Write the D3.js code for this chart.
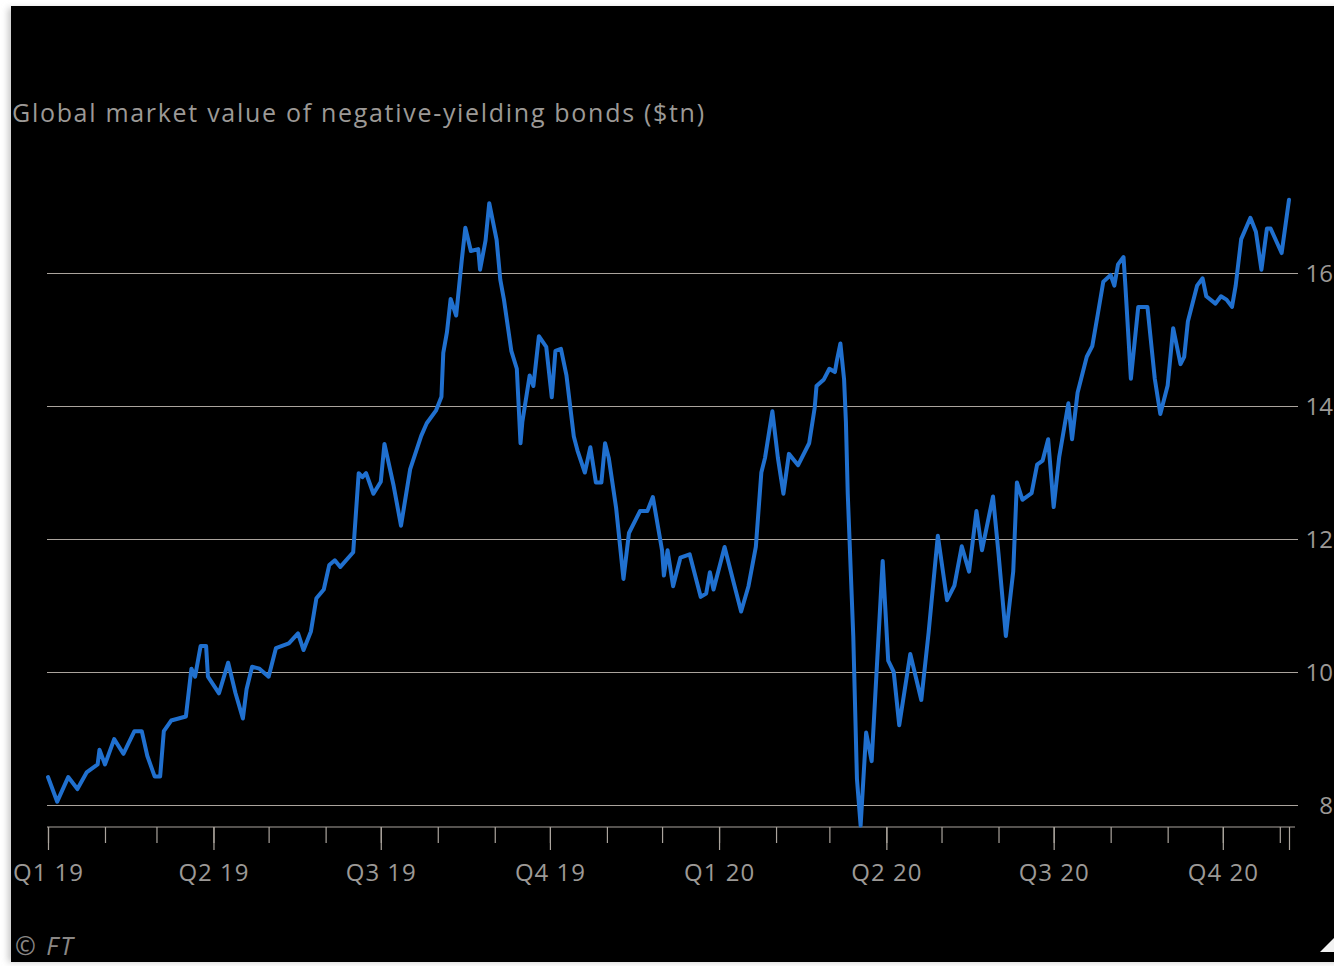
<!DOCTYPE html>
<html>
<head>
<meta charset="utf-8">
<script src="https://cdn.jsdelivr.net/npm/d3@7"></script>
<style>
  html, body { margin: 0; padding: 0; background: #fff; overflow: hidden; }
  svg { display: block; }
</style>
</head>
<body>
<svg id="chart" width="1334" height="966"></svg>
<script>
// Global market value of negative-yielding bonds, $tn
const dates = [
  "2019-01-01","2019-01-06","2019-01-12","2019-01-17","2019-01-22","2019-01-28","2019-01-29",
  "2019-02-01","2019-02-06","2019-02-11","2019-02-17","2019-02-21","2019-02-24","2019-02-28",
  "2019-03-03","2019-03-05","2019-03-09","2019-03-17","2019-03-20","2019-03-22","2019-03-25","2019-03-28","2019-03-29",
  "2019-04-04","2019-04-09","2019-04-13","2019-04-17","2019-04-19","2019-04-22","2019-04-26",
  "2019-05-01","2019-05-05","2019-05-12","2019-05-17","2019-05-20","2019-05-24","2019-05-27","2019-05-31",
  "2019-06-03","2019-06-06","2019-06-09","2019-06-16","2019-06-19","2019-06-21","2019-06-23","2019-06-27",
  "2019-07-01","2019-07-03","2019-07-08","2019-07-12","2019-07-17","2019-07-23","2019-07-26","2019-07-31",
  "2019-08-03","2019-08-04","2019-08-06","2019-08-08","2019-08-11","2019-08-14","2019-08-16","2019-08-19",
  "2019-08-23","2019-08-24","2019-08-27","2019-08-29",
  "2019-09-02","2019-09-04","2019-09-06","2019-09-10","2019-09-13","2019-09-15","2019-09-16","2019-09-20",
  "2019-09-22","2019-09-25","2019-09-29",
  "2019-10-02","2019-10-04","2019-10-07","2019-10-10","2019-10-14","2019-10-16","2019-10-20","2019-10-23",
  "2019-10-26","2019-10-29","2019-10-31",
  "2019-11-02","2019-11-06","2019-11-10","2019-11-13","2019-11-19","2019-11-23","2019-11-26",
  "2019-12-01","2019-12-02","2019-12-04","2019-12-07","2019-12-11","2019-12-16","2019-12-22","2019-12-25",
  "2019-12-27","2019-12-29",
  "2020-01-04","2020-01-09","2020-01-13","2020-01-17","2020-01-21","2020-01-24","2020-01-26","2020-01-30",
  "2020-02-02","2020-02-05","2020-02-08","2020-02-13","2020-02-19","2020-02-22","2020-02-23","2020-02-27",
  "2020-03-01","2020-03-04","2020-03-05","2020-03-07","2020-03-09","2020-03-10","2020-03-11","2020-03-14",
  "2020-03-16","2020-03-18","2020-03-21","2020-03-24",
  "2020-03-30","2020-04-02","2020-04-05","2020-04-08","2020-04-14","2020-04-20","2020-04-24","2020-04-29",
  "2020-05-04","2020-05-08","2020-05-12","2020-05-16","2020-05-20","2020-05-23","2020-05-29",
  "2020-06-01","2020-06-05","2020-06-09","2020-06-11","2020-06-14","2020-06-19","2020-06-22","2020-06-25","2020-06-28",
  "2020-07-01","2020-07-04","2020-07-09","2020-07-11","2020-07-14","2020-07-19","2020-07-22","2020-07-25","2020-07-28",
  "2020-08-01","2020-08-03","2020-08-05","2020-08-08","2020-08-09","2020-08-12","2020-08-16","2020-08-21",
  "2020-08-25","2020-08-28",
  "2020-09-01","2020-09-04","2020-09-08","2020-09-10","2020-09-12","2020-09-17","2020-09-20","2020-09-22",
  "2020-09-27","2020-09-30",
  "2020-10-03","2020-10-06","2020-10-08","2020-10-11","2020-10-16","2020-10-19","2020-10-22","2020-10-25","2020-10-27",
  "2020-11-02","2020-11-06"
];
const values = [
  8.42, 8.05, 8.42, 8.24, 8.49, 8.61, 8.83,
  8.61, 8.99, 8.77, 9.11, 9.11, 8.74, 8.43,
  8.43, 9.11, 9.27, 9.33, 10.05, 9.93, 10.39, 10.39, 9.93,
  9.68, 10.14, 9.68, 9.30, 9.74, 10.08, 10.05,
  9.93, 10.36, 10.43, 10.58, 10.33, 10.61, 11.11, 11.24,
  11.61, 11.68, 11.58, 11.80, 12.99, 12.93, 12.99, 12.68,
  12.86, 13.43, 12.80, 12.20, 13.05, 13.55, 13.74, 13.93,
  14.14, 14.80, 15.11, 15.61, 15.36, 16.18, 16.68, 16.33,
  16.36, 16.05, 16.49, 17.05,
  16.50, 15.90, 15.60, 14.83, 14.56, 13.44, 13.76, 14.46,
  14.30, 15.05, 14.89,
  14.13, 14.83, 14.86, 14.46, 13.54, 13.33, 13.00, 13.38,
  12.85, 12.85, 13.44,
  13.22, 12.47, 11.40, 12.09, 12.42, 12.42, 12.63,
  11.83, 11.45, 11.83, 11.29, 11.72, 11.77, 11.13, 11.18,
  11.50, 11.24,
  11.88, 11.34, 10.91, 11.29, 11.88, 13.00, 13.22, 13.92,
  13.22, 12.68, 13.28, 13.11, 13.44, 13.97, 14.30, 14.40,
  14.56, 14.51, 14.67, 14.94, 14.40, 13.76, 12.68, 10.54,
  8.39, 7.69, 9.09, 8.66,
  11.67, 10.17, 10.00, 9.20, 10.27, 9.58, 10.60, 12.05,
  11.08, 11.30, 11.89, 11.51, 12.42, 11.83, 12.64,
  11.78, 10.54, 11.51, 12.85, 12.59, 12.69, 13.12, 13.18, 13.50,
  12.48, 13.23, 14.04, 13.50, 14.20, 14.74, 14.90, 15.38, 15.87,
  15.97, 15.81, 16.13, 16.24, 15.81, 14.41, 15.49, 15.49,
  14.41, 13.88,
  14.31, 15.17, 14.63, 14.74, 15.27, 15.81, 15.92, 15.65,
  15.54, 15.65,
  15.60, 15.49, 15.81, 16.51, 16.83, 16.62, 16.05, 16.67, 16.67,
  16.30, 17.10
];
const yTicks = [8, 10, 12, 14, 16];
const quarterStarts = ["2019-01-01","2019-04-01","2019-07-01","2019-10-01",
                       "2020-01-01","2020-04-01","2020-07-01","2020-10-01"];
const quarterLabels = ["Q1 19","Q2 19","Q3 19","Q4 19","Q1 20","Q2 20","Q3 20","Q4 20"];
const titleText = "Global market value of negative-yielding bonds ($tn)";
const sourceText = "\u00A9 FT";

const W = 1334, H = 966;
const FONT = "'Open Sans', 'Noto Sans', sans-serif";
const TEXT_GREY = "#9c9996";
const RULE_GREY = "#aaa49d";
const LINE_BLUE = "#2070cf";

const parse = d3.utcParse("%Y-%m-%d");
const series = dates.map((d, i) => ({ date: parse(d), value: values[i] }));
const start = series[0].date;
const end = series[series.length - 1].date;

const svg = d3.select("#chart");

// page backdrop: white margins with the dark chart panel
svg.append("rect").attr("width", W).attr("height", H).attr("fill", "#ffffff");
const defs = svg.append("defs");
defs.append("filter").attr("id", "soft")
  .attr("x", "-5%").attr("y", "-5%").attr("width", "110%").attr("height", "110%")
  .append("feGaussianBlur").attr("stdDeviation", 3);
svg.append("rect").attr("x", 8).attr("y", 8).attr("width", W).attr("height", 954)
  .attr("fill", "#c8c8c8").attr("filter", "url(#soft)");
svg.append("rect").attr("x", 11).attr("y", 6).attr("width", W - 11).attr("height", 956)
  .attr("fill", "#000000");

// scales
const x = d3.scaleUtc().domain([start, end]).range([48, 1289]);
const y = d3.scaleLinear().domain([8, 16]).range([805, 273]);

const gridLeft = 47, gridRight = 1298;

// horizontal gridlines with value labels on the right
const yAxis = d3.axisRight(y)
  .tickValues(yTicks)
  .tickSize(-(gridRight - gridLeft))
  .tickPadding(0)
  .tickFormat(d3.format("d"));
const gy = svg.append("g").attr("transform", `translate(${gridRight},0)`).call(yAxis);
gy.select(".domain").remove();
gy.selectAll(".tick line").attr("stroke", RULE_GREY).attr("stroke-width", 1.2);
gy.selectAll(".tick text")
  .attr("x", 35).attr("dy", "0.36em")
  .attr("text-anchor", "end")
  .attr("fill", TEXT_GREY)
  .style("font-family", FONT).style("font-size", "24px");

// time axis: month ticks, longer quarter ticks, and a tick at the last date
const axisY = 827;
svg.append("line")
  .attr("x1", gridLeft).attr("x2", 1295)
  .attr("y1", axisY).attr("y2", axisY)
  .attr("stroke", RULE_GREY).attr("stroke-width", 1.2);

const monthTicks = d3.utcMonth.range(start, end);
const gMinor = svg.append("g").attr("transform", `translate(0,${axisY})`)
  .call(d3.axisBottom(x).tickValues(monthTicks).tickSize(16).tickFormat(""));
gMinor.select(".domain").remove();
gMinor.selectAll(".tick line").attr("stroke", RULE_GREY).attr("stroke-width", 1.2);

const quarterDates = quarterStarts.map(parse);
const labelFor = new Map(quarterDates.map((d, i) => [+d, quarterLabels[i]]));
const gMajor = svg.append("g").attr("transform", `translate(0,${axisY})`)
  .call(d3.axisBottom(x)
    .tickValues(quarterDates.concat([end]))
    .tickSize(23)
    .tickPadding(14)
    .tickFormat(d => labelFor.get(+d) || ""));
gMajor.select(".domain").remove();
gMajor.selectAll(".tick line").attr("stroke", RULE_GREY).attr("stroke-width", 1.2);
gMajor.selectAll(".tick text")
  .attr("fill", TEXT_GREY)
  .style("font-family", FONT).style("font-size", "24px")
  .style("letter-spacing", "1px");

// the series line
const line = d3.line()
  .x(d => x(d.date))
  .y(d => y(d.value))
  .curve(d3.curveLinear);
svg.append("path")
  .datum(series)
  .attr("d", line)
  .attr("fill", "none")
  .attr("stroke", LINE_BLUE)
  .attr("stroke-width", 4)
  .attr("stroke-linejoin", "round")
  .attr("stroke-linecap", "round");

// title and source
svg.append("text")
  .attr("x", 12).attr("y", 122)
  .attr("fill", TEXT_GREY)
  .style("font-family", FONT).style("font-size", "25px")
  .style("letter-spacing", "1.7px")
  .text(titleText);

svg.append("text")
  .attr("x", 15).attr("y", 955)
  .attr("fill", "#8a8785")
  .style("font-family", FONT).style("font-size", "25px").style("font-style", "italic")
  .style("letter-spacing", "2px")
  .text(sourceText);

// small corner marker at the bottom right
svg.append("path")
  .attr("d", d3.line()([[1320, 952], [1334, 938], [1334, 952]]) + "Z")
  .attr("fill", "#f2f2f2");
</script>
</body>
</html>
